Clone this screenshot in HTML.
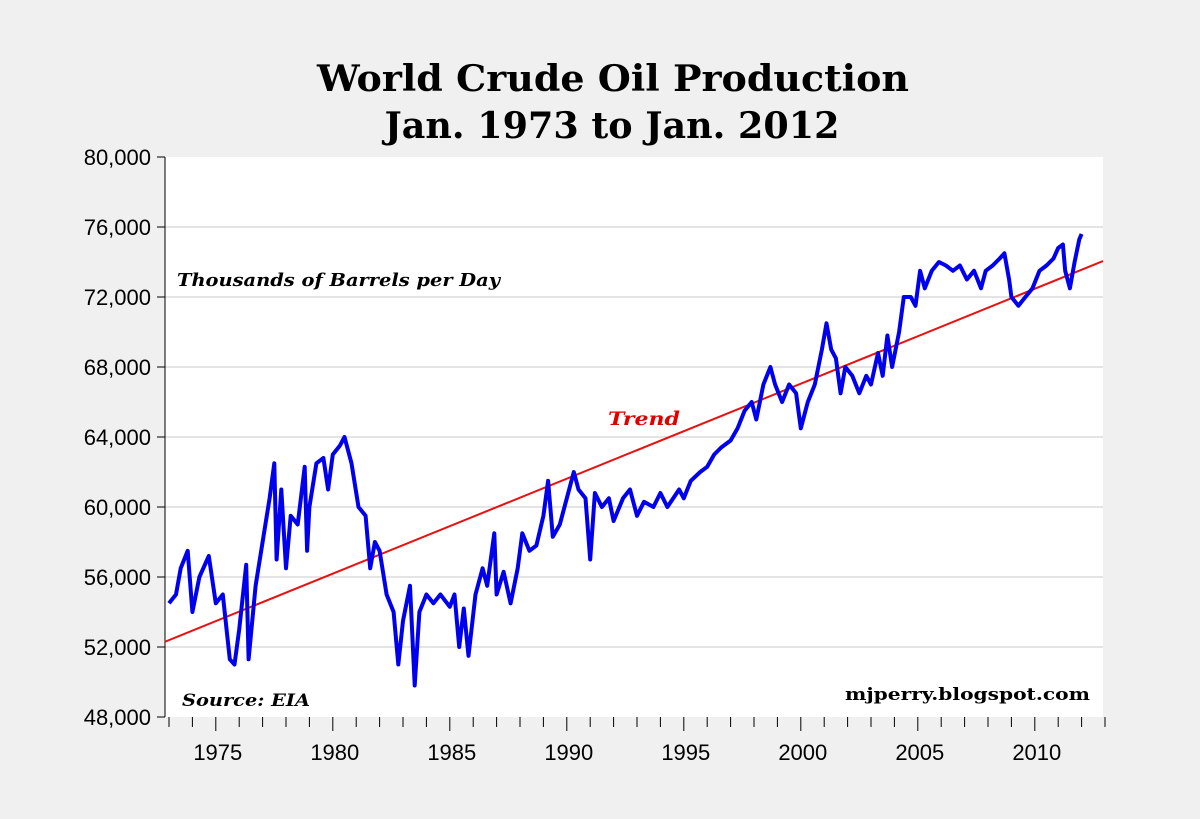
<!DOCTYPE html>
<html><head><meta charset="utf-8">
<style>
body{margin:0;background:#f0f0f0;}
svg{display:block;font-family:"Liberation Sans",sans-serif;}
</style></head>
<body>
<svg id="chart" width="1200" height="819">
<rect x="0" y="0" width="1200" height="819" fill="#f0f0f0"/>
<text x="613" y="91" text-anchor="middle" font-family="DejaVu Serif,serif" font-weight="bold" font-size="36" textLength="592" lengthAdjust="spacingAndGlyphs">World Crude Oil Production</text>
<text x="612" y="138" text-anchor="middle" font-family="DejaVu Serif,serif" font-weight="bold" font-size="36" textLength="455" lengthAdjust="spacingAndGlyphs">Jan. 1973 to Jan. 2012</text>
<rect x="165" y="157" width="938" height="560" fill="#fff"/>
<g id="grid"></g>
<g id="axes"></g>
<g id="series"></g>
<text x="177" y="286" font-family="DejaVu Serif,serif" font-style="italic" font-weight="bold" font-size="18" textLength="323" lengthAdjust="spacingAndGlyphs">Thousands of Barrels per Day</text>
<text x="608" y="425" font-family="DejaVu Serif,serif" font-style="italic" font-weight="bold" font-size="19" fill="#e00000" textLength="72" lengthAdjust="spacingAndGlyphs">Trend</text>
<text x="182" y="706" font-family="DejaVu Serif,serif" font-style="italic" font-weight="bold" font-size="17" textLength="128" lengthAdjust="spacingAndGlyphs">Source: EIA</text>
<text x="1090" y="700" text-anchor="end" font-family="DejaVu Serif,serif" font-weight="bold" font-size="17" textLength="245" lengthAdjust="spacingAndGlyphs">mjperry.blogspot.com</text>
</svg>
<script>
const years=[1973,1973.3,1973.5,1973.8,1974,1974.3,1974.7,1975,1975.3,1975.6,1975.8,1976,1976.3,1976.4,1976.7,1977,1977.3,1977.5,1977.6,1977.8,1978,1978.2,1978.5,1978.8,1978.9,1979,1979.3,1979.6,1979.8,1980,1980.3,1980.5,1980.8,1981.1,1981.4,1981.6,1981.8,1982,1982.3,1982.6,1982.8,1983,1983.3,1983.5,1983.7,1984,1984.3,1984.6,1985,1985.2,1985.4,1985.6,1985.8,1986.1,1986.4,1986.6,1986.9,1987,1987.3,1987.6,1987.9,1988.1,1988.4,1988.7,1989,1989.2,1989.4,1989.7,1990,1990.3,1990.5,1990.8,1991,1991.2,1991.5,1991.8,1992,1992.4,1992.7,1993,1993.3,1993.7,1994,1994.3,1994.8,1995,1995.3,1995.7,1996,1996.3,1996.6,1997,1997.3,1997.6,1997.9,1998.1,1998.4,1998.7,1998.9,1999.2,1999.5,1999.8,2000,2000.3,2000.6,2000.9,2001.1,2001.3,2001.5,2001.7,2001.9,2002.2,2002.5,2002.8,2003,2003.3,2003.5,2003.7,2003.9,2004.2,2004.4,2004.7,2004.9,2005.1,2005.3,2005.6,2005.9,2006.2,2006.5,2006.8,2007.1,2007.4,2007.7,2007.9,2008.2,2008.5,2008.7,2008.9,2009,2009.3,2009.6,2009.9,2010.2,2010.5,2010.8,2011,2011.2,2011.3,2011.5,2011.7,2011.9,2012];
const production=[54.5,55,56.5,57.5,54,56,57.2,54.5,55,51.3,51,53,56.7,51.3,55.5,58,60.5,62.5,57,61,56.5,59.5,59,62.3,57.5,60,62.5,62.8,61,63,63.5,64,62.5,60,59.5,56.5,58,57.5,55,54,51,53.5,55.5,49.8,54,55,54.5,55,54.3,55,52,54.2,51.5,55,56.5,55.5,58.5,55,56.3,54.5,56.5,58.5,57.5,57.8,59.5,61.5,58.3,59,60.5,62,61,60.5,57,60.8,60,60.5,59.2,60.5,61,59.5,60.3,60,60.8,60,61,60.5,61.5,62,62.3,63,63.4,63.8,64.5,65.5,66,65,67,68,67,66,67,66.5,64.5,66,67,69,70.5,69,68.5,66.5,68,67.5,66.5,67.5,67,68.8,67.5,69.8,68,70,72,72,71.5,73.5,72.5,73.5,74,73.8,73.5,73.8,73,73.5,72.5,73.5,73.8,74.2,74.5,73,72,71.5,72,72.5,73.5,73.8,74.2,74.8,75,73.5,72.5,74,75.3,75.6];
const trendYears=[1973,2013];
const trendValues=[52.3,74.1];
const yTicks=[48000,52000,56000,60000,64000,68000,72000,76000,80000];
const xTickLabels=[1975,1980,1985,1990,1995,2000,2005,2010];

const NS="http://www.w3.org/2000/svg";
const X0=169,PX=23.4,Y0=717,Y1=157,VMIN=48,VMAX=80;
const xs=y=>X0+(y-1973)*PX;
const ys=v=>Y0-(v-VMIN)/(VMAX-VMIN)*(Y0-Y1);
function mk(tag,attrs,parent){const e=document.createElementNS(NS,tag);for(const k in attrs)e.setAttribute(k,attrs[k]);parent.appendChild(e);return e;}
const grid=document.getElementById('grid'),axes=document.getElementById('axes'),series=document.getElementById('series');
yTicks.forEach(t=>{
  const y=ys(t/1000);
  if(t>48000&&t<80000){const g=mk('line',{x1:165,x2:1103,y1:y,y2:y,stroke:'#c8c8c8','stroke-width':1},grid);
  
  }
  const tk=mk('line',{x1:157,x2:165,y1:y,y2:y,stroke:'#000'},axes);
  
  
  const tx=mk('text',{x:151,y:y+8,'text-anchor':'end','font-size':22},axes);
  tx.textContent=t.toLocaleString('en-US');
  
  
});
const ax=mk('line',{x1:165,x2:165,y1:157,y2:717,stroke:'#000'},axes);


for(let yr=1973;yr<=2013;yr++){
  const x=xs(yr);const major=xTickLabels.includes(yr);
  const t=mk('line',{x1:x,x2:x,y1:717,y2:major?731:727,stroke:'#000'},axes);
  
  
}
xTickLabels.forEach(yr=>{
  const tx=mk('text',{x:xs(yr)+2,y:760,'text-anchor':'middle','font-size':22},axes);
  tx.textContent=yr;
  
  
});
const tr=mk('line',{x1:165,y1:ys(trendValues[0]),x2:1103,y2:ys(trendValues[0]+(trendValues[1]-trendValues[0])*(((1103-X0)/PX)/(trendYears[1]-trendYears[0]))),stroke:'#e81010','stroke-width':2},series);


const pts=years.map((y,i)=>xs(y).toFixed(1)+','+ys(production[i]).toFixed(1)).join(' ');
const pl=mk('polyline',{points:pts,fill:'none',stroke:'#0000ee','stroke-width':4,'stroke-linejoin':'round'},series);


</script>
</body></html>
